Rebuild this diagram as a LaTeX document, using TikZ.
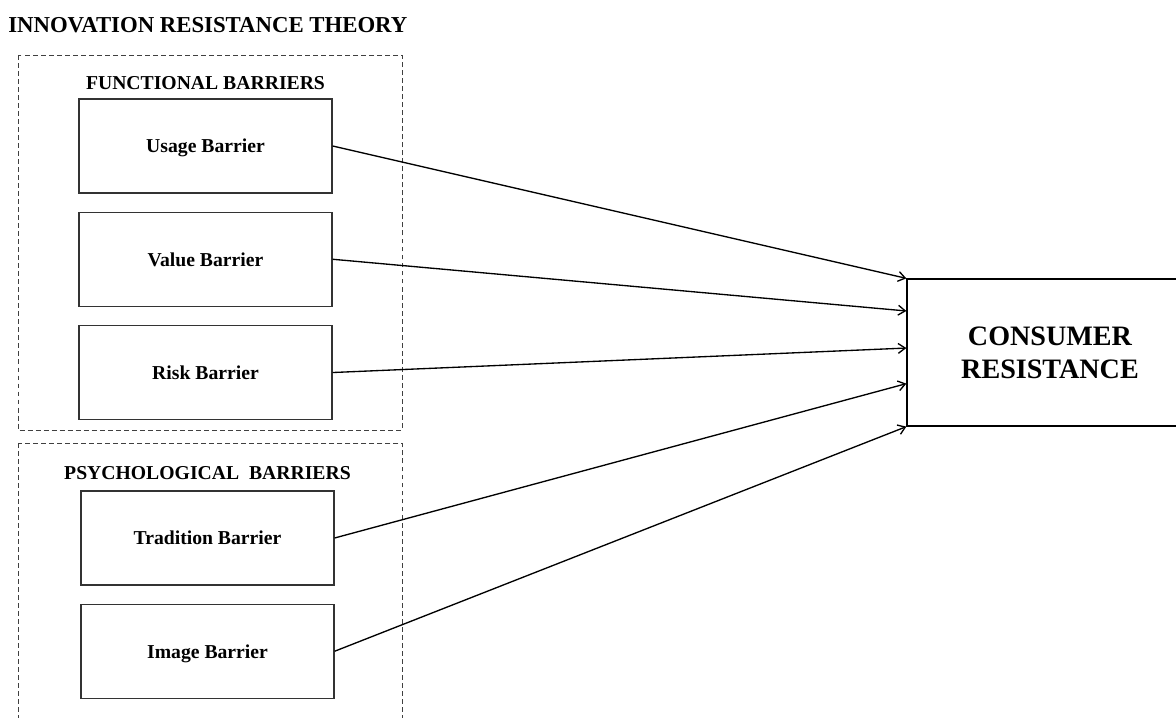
\documentclass[tikz,border=0pt]{standalone}
\usepackage{fontspec}
\setmainfont{Liberation Serif}
\usepackage{tikz}
\usetikzlibrary{shapes,arrows,arrows.meta,positioning,calc}

\begin{document}
\begin{tikzpicture}[node distance=0.45cm, auto, >={Straight Barb[length=5pt,width=7pt]}]
    \tikzstyle{barrier} = [rectangle, draw=black!80, line width=0.9pt, minimum width=6.325cm, minimum height=2.35cm, text depth=0pt, font=\fontsize{14}{16}\selectfont\bfseries]
    \tikzstyle{group} = [draw=black!75, line width=0.7pt, dash pattern=on 3.5pt off 2.2pt]
    \tikzstyle{grouplabel} = [inner sep=0pt, font=\fontsize{14}{16}\selectfont\bfseries]
    \tikzstyle{arrow} = [draw, ->, line width=0.95pt]

    \useasboundingbox (0,0) rectangle (29.4,17.95);

    \node [anchor=west, inner sep=0pt, font=\fontsize{16.2}{18}\selectfont\bfseries] (title) at (0.2,17.325) {INNOVATION RESISTANCE THEORY};

    % functional barriers
    \draw [group] (0.45,16.575) rectangle (10.05,7.2);
    \node [barrier] (usage) at (5.1375,14.3) {Usage Barrier};
    \node [barrier, below=of usage] (value) {Value Barrier};
    \node [barrier, below=of value] (risk) {Risk Barrier};
    \node [grouplabel, above=0.2cm of usage] (func) {FUNCTIONAL BARRIERS};

    % psychological barriers
    \draw [group] (0.45,6.875) rectangle (10.05,-0.5);
    \node [barrier] (tradition) at (5.1875,4.5) {Tradition Barrier};
    \node [barrier, below=of tradition] (image) {Image Barrier};
    \node [grouplabel, above=0.25cm of tradition] (psych) {PSYCHOLOGICAL\ \ BARRIERS};

    % outcome
    \node [rectangle, draw, line width=0.9pt, minimum width=7.15cm, minimum height=3.675cm, align=center, font=\fontsize{20}{23.5}\selectfont\bfseries] (resist) at (26.25,9.1375) {CONSUMER\\RESISTANCE};

    \coordinate (in1) at (resist.north west);
    \coordinate (in2) at ($(resist.north west)!0.22!(resist.south west)$);
    \coordinate (in3) at ($(resist.north west)!0.47!(resist.south west)$);
    \coordinate (in4) at ($(resist.north west)!0.71!(resist.south west)$);
    \coordinate (in5) at (resist.south west);

    \draw [arrow] (usage.east) -- (in1);
    \draw [arrow] (value.east) -- (in2);
    \draw [arrow] (risk.east) -- (in3);
    \draw [arrow] (tradition.east) -- (in4);
    \draw [arrow] (image.east) -- (in5);
\end{tikzpicture}
\end{document}
